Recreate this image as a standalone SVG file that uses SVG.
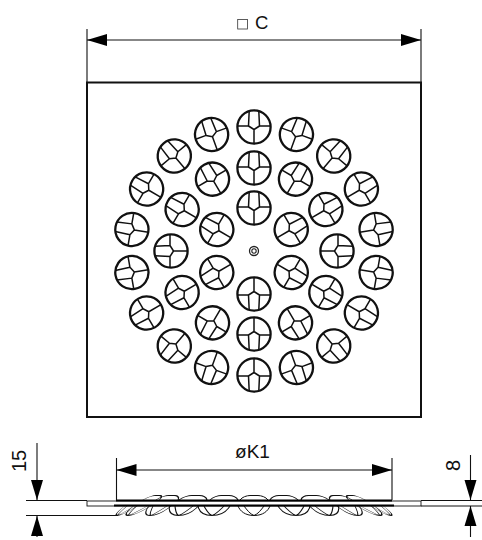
<svg xmlns="http://www.w3.org/2000/svg" width="482" height="540" viewBox="0 0 482 540">
<style>
text{font-family:"Liberation Sans",Arial,sans-serif;fill:#111}
.d{fill:none;stroke:#111;stroke-width:1.1}
.o{fill:none;stroke:#111;stroke-width:2}
.c{fill:none;stroke:#111;stroke-width:2.3}
.i{fill:none;stroke:#111;stroke-width:1.5;stroke-linejoin:round}
.s{fill:none;stroke:#111;stroke-width:1}
</style>
<defs>
<g id="fil">
<circle class="c" r="16.6"/>
<path class="i" d="M-16.600-1H-5.500L0 2.500 5.500-1H16.600M-4.800-16-5.500-1M4.800-16 5.500-1M0 2.500V16.600"/>
</g>
<marker id="a" markerUnits="userSpaceOnUse" markerWidth="21" markerHeight="14" refX="20" refY="7" orient="auto-start-reverse">
<path d="M0 1 20 7 0 13Z" fill="#000"/>
</marker>
<path id="b" class="s" d="M-16 0C-14 5-9 9.500 0 9.500 9 9.500 14 5 16 0M-10 0C-7 4-4 8 0 9.500M10 0C7 4 4 8 0 9.500"/>
<path id="t" class="s" d="M-14 0C-12-3-7-4.500-4-4.500H4C7-4.500 12-3 14 0"/>
</defs>
<g id="dim-c">
<path class="d" d="M87 29V82M421 29V82"/>
<path class="d" d="M87 40H421" marker-start="url(#a)" marker-end="url(#a)"/>
<rect x="237.700" y="19.500" width="9.700" height="9.500" fill="none" stroke="#333" stroke-width=".8"/>
<text x="255" y="29" font-size="18.500">C</text>
</g>
<rect id="plate" class="o" x="87" y="82.500" width="334" height="334.500"/>
<g id="hole" fill="none" stroke="#222"><circle cx="254" cy="251" r="4.500" stroke-width="1.300"/><circle cx="254" cy="251" r="2.200" stroke-width="1.100"/></g>
<g id="ring1" transform="translate(254 251)">
<use href="#fil" transform="rotate(0) translate(0 -43)"/><use href="#fil" transform="rotate(60) translate(0 -43)"/><use href="#fil" transform="rotate(120) translate(0 -43)"/><use href="#fil" transform="rotate(180) translate(0 -43)"/><use href="#fil" transform="rotate(240) translate(0 -43)"/><use href="#fil" transform="rotate(300) translate(0 -43)"/>
</g>
<g id="ring2" transform="translate(254 251)">
<use href="#fil" transform="rotate(0) translate(0 -83)"/><use href="#fil" transform="rotate(30) translate(0 -83)"/><use href="#fil" transform="rotate(60) translate(0 -83)"/><use href="#fil" transform="rotate(90) translate(0 -83)"/><use href="#fil" transform="rotate(120) translate(0 -83)"/><use href="#fil" transform="rotate(150) translate(0 -83)"/><use href="#fil" transform="rotate(180) translate(0 -83)"/><use href="#fil" transform="rotate(210) translate(0 -83)"/><use href="#fil" transform="rotate(240) translate(0 -83)"/><use href="#fil" transform="rotate(270) translate(0 -83)"/><use href="#fil" transform="rotate(300) translate(0 -83)"/><use href="#fil" transform="rotate(330) translate(0 -83)"/>
</g>
<g id="ring3" transform="translate(254 251)">
<use href="#fil" transform="rotate(0) translate(0 -124)"/><use href="#fil" transform="rotate(20) translate(0 -124)"/><use href="#fil" transform="rotate(40) translate(0 -124)"/><use href="#fil" transform="rotate(60) translate(0 -124)"/><use href="#fil" transform="rotate(80) translate(0 -124)"/><use href="#fil" transform="rotate(100) translate(0 -124)"/><use href="#fil" transform="rotate(120) translate(0 -124)"/><use href="#fil" transform="rotate(140) translate(0 -124)"/><use href="#fil" transform="rotate(160) translate(0 -124)"/><use href="#fil" transform="rotate(180) translate(0 -124)"/><use href="#fil" transform="rotate(200) translate(0 -124)"/><use href="#fil" transform="rotate(220) translate(0 -124)"/><use href="#fil" transform="rotate(240) translate(0 -124)"/><use href="#fil" transform="rotate(260) translate(0 -124)"/><use href="#fil" transform="rotate(280) translate(0 -124)"/><use href="#fil" transform="rotate(300) translate(0 -124)"/><use href="#fil" transform="rotate(320) translate(0 -124)"/><use href="#fil" transform="rotate(340) translate(0 -124)"/>
</g>
<g id="side">
<use href="#t" transform="translate(254 500)"/>
<use href="#t" transform="translate(224 500) skewX(-15)"/><use href="#t" transform="translate(284 500) skewX(15)"/>
<use href="#t" transform="translate(193 500) skewX(-30)"/><use href="#t" transform="translate(315 500) skewX(30)"/>
<use href="#t" transform="translate(167 500) skewX(-45) scale(.8 1)"/><use href="#t" transform="translate(341 500) skewX(45) scale(.8 1)"/>
<use href="#t" transform="translate(151 500) skewX(-55) scale(.6 1)"/><use href="#t" transform="translate(357 500) skewX(55) scale(.6 1)"/>
<use href="#b" transform="translate(254 506)"/>
<use href="#b" transform="translate(214 506) skewX(-12)"/><use href="#b" transform="translate(294 506) skewX(12)"/>
<use href="#b" transform="translate(184 506) skewX(-30) scale(.9 1)"/><use href="#b" transform="translate(324 506) skewX(30) scale(.9 1)"/>
<use href="#b" transform="translate(160 506) skewX(-45) scale(.7 1)"/><use href="#b" transform="translate(348 506) skewX(45) scale(.7 1)"/>
<use href="#b" transform="translate(142 506) skewX(-55) scale(.55 1)"/><use href="#b" transform="translate(366 506) skewX(55) scale(.55 1)"/>
<use href="#b" transform="translate(131 506) skewX(-55) scale(.4 1)"/><use href="#b" transform="translate(377 506) skewX(55) scale(.4 1)"/>
<rect x="87" y="501" width="334" height="5" fill="#fff" stroke="#111" stroke-width=".9"/>
<path d="M116 500.500H392" stroke="#000" stroke-width="1.800" fill="none"/>
<path d="M114 505.500H394" stroke="#000" stroke-width="1.800" fill="none"/>
</g>
<g id="dim-k1">
<path class="d" d="M116.500 458V500M392 458V500"/>
<path class="d" d="M116.500 470H392" marker-start="url(#a)" marker-end="url(#a)"/>
<text x="252.500" y="458" font-size="19" text-anchor="middle">øK1</text>
</g>
<g id="dim-15">
<path class="d" d="M26 500.500H87M26 515.500H118"/>
<path class="d" d="M37 443V500" marker-end="url(#a)"/>
<path class="d" d="M37 537V516" marker-end="url(#a)"/>
<text transform="translate(26 472) rotate(-90)" font-size="20">15</text>
</g>
<g id="dim-8">
<path class="d" d="M421 500.500H482M421 506H482"/>
<path class="d" d="M470.500 455V500" marker-end="url(#a)"/>
<path class="d" d="M470.500 537V506" marker-end="url(#a)"/>
<text transform="translate(459.500 471) rotate(-90)" font-size="20">8</text>
</g>
</svg>
